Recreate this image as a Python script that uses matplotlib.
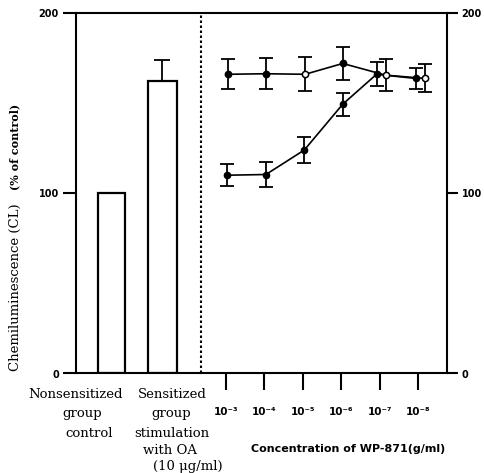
import matplotlib
matplotlib.use("Agg")
import matplotlib.pyplot as plt
import numpy as np

# ---- data ----
bar_labels = [["Nonsensitized", "group", "control"],
              ["Sensitized", "group", "stimulation", "with OA", "(10 μg/ml)"]]
bar_values = [100, 162]
bar_err_up = [0, 12]

conc_labels = ["10⁻³", "10⁻⁴", "10⁻⁵", "10⁻⁶", "10⁻⁷", "10⁻⁸"]
upper_values = [166, 166.3, 166, 172, 165.5, 163.7]
upper_err = [8.3, 8.6, 9.4, 9.3, 8.9, 7.8]
upper_open = [False, False, True, False, True, True]
lower_values = [110, 110.4, 124, 149.4, 166, 163.7]
lower_err = [6, 7, 7.2, 6.3, 6.7, 6]

y_ticks = [0, 100, 200]

# ---- style / layout ----
W, H = 484, 473
fig = plt.figure(figsize=(W / 100, H / 100), dpi=100)
ax = fig.add_axes([76 / W, 1 - 373.5 / H, (447 - 76) / W, (373.5 - 13) / H])

px = 38.4  # pixels per concentration step
x0 = 226
def dx(p):
    return (p - x0) / px

ax.set_xlim(dx(76), dx(447))
ax.set_ylim(0, 200)

lw_sp = 1.5
for s in ["left", "top", "bottom", "right"]:
    ax.spines[s].set_linewidth(lw_sp)
ax.spines["right"].set_visible(False)

# bars
bar_pos = [dx(111.5), dx(162.5)]
bar_w = [27 / px, 29 / px]
ax.bar(bar_pos, bar_values, width=bar_w, facecolor="white", edgecolor="black",
       linewidth=1.6, zorder=2)
ax.errorbar(bar_pos, bar_values, yerr=[[0, 0], bar_err_up], fmt="none",
            ecolor="black", elinewidth=1.3, capsize=6, capthick=1.3, zorder=3)

# dotted separator
ax.plot([dx(201), dx(201)], [0, 200], color="black", linestyle=(0, (1.2, 1.2)),
        linewidth=1.5, zorder=1)

# line series
idx = np.arange(len(conc_labels))
upper_off = np.array([0.04, 0.04, 0.06, 0.04, 0.16, 0.19])
lower_off = np.array([0.02, 0.04, 0.04, 0.04, -0.08, -0.06])
ux = idx + upper_off
lx = idx + lower_off

for xs, ys, es in [(ux, upper_values, upper_err), (lx, lower_values, lower_err)]:
    ax.errorbar(xs, ys, yerr=es, fmt="-", color="black", linewidth=1.2,
                elinewidth=1.3, capsize=5, capthick=1.3, zorder=3)

for xi, yi, op in zip(ux, upper_values, upper_open):
    ax.plot(xi, yi, "o", markersize=4.5, markeredgewidth=1.1,
            markerfacecolor="white" if op else "black", markeredgecolor="black", zorder=4)
ax.plot(lx, lower_values, "o", markersize=4.5, color="black", zorder=4)

# left ticks
ax.set_yticks(y_ticks)
ax.set_yticklabels([str(t) for t in y_ticks], fontsize=7, fontweight="bold",
                   family="DejaVu Sans")
ax.tick_params(axis="y", direction="out", length=9.4, width=1.5, pad=3)

# bottom ticks
ax.set_xticks(idx)
ax.set_xticklabels(conc_labels, fontsize=7.5, fontweight="bold", family="DejaVu Sans")
ax.tick_params(axis="x", direction="out", length=12, width=1.5, pad=12)

# right axis
ax2 = ax.twinx()
ax2.set_ylim(0, 200)
ax2.set_yticks(y_ticks)
ax2.set_yticklabels([str(t) for t in y_ticks], fontsize=7, fontweight="bold",
                    family="DejaVu Sans")
ax2.tick_params(axis="y", direction="out", length=8, width=1.5, pad=2.5)
for s in ["left", "top", "bottom"]:
    ax2.spines[s].set_visible(False)
ax2.spines["right"].set_linewidth(lw_sp)

# category labels
serif = "DejaVu Serif"
cat1_centers = [76, 82, 89]
cat1_y = [394, 413, 433]
for t, cx, cy in zip(bar_labels[0], cat1_centers, cat1_y):
    fig.text(cx / W, 1 - cy / H, t, ha="center", va="center", fontsize=9.5, family=serif)
cat2_centers = [172, 171, 172, 170, 188]
cat2_y = [394, 413, 433, 450, 466]
for t, cx, cy in zip(bar_labels[1], cat2_centers, cat2_y):
    fig.text(cx / W, 1 - cy / H, t, ha="center", va="center", fontsize=9.5, family=serif)

# x label
fig.text(348 / W, 1 - 449 / H, "Concentration of WP-871(g/ml)", ha="center", va="center",
         fontsize=8, fontweight="bold", family="DejaVu Sans")

# y label (two parts)
fig.text(15 / W, 1 - 287 / H, "Chemiluminescence (CL)", rotation=90, ha="center",
         va="center", fontsize=9.5, family=serif)
fig.text(15 / W, 1 - 147 / H, "(% of control)", rotation=90, ha="center",
         va="center", fontsize=8, fontweight="bold", family=serif)

fig.savefig("out.png", dpi=100)
